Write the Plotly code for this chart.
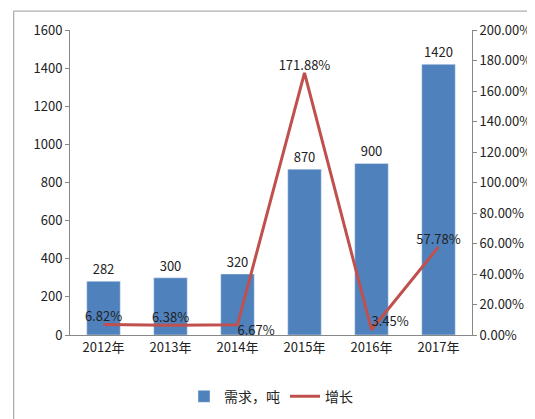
import plotly.graph_objects as go

years = ["2012年", "2013年", "2014年", "2015年", "2016年", "2017年"]
demand = [282, 300, 320, 870, 900, 1420]
growth = [6.82, 6.38, 6.67, 171.88, 3.45, 57.78]
growth_text = ["6.82%", "6.38%", "6.67%", "171.88%", "3.45%", "57.78%"]
growth_pos = ["top center", "top center", "bottom right", "top center", "top right", "top center"]

font = "Noto Sans CJK SC"
fig = go.Figure()
fig.add_trace(go.Bar(x=years, y=demand, name="需求，吨", marker_color="#4F81BD",
                     width=0.5, text=[str(v) for v in demand], textposition="outside",
                     constraintext="none",
                     textfont=dict(size=13, color="#222"), cliponaxis=False))
fig.add_trace(go.Scatter(x=years, y=growth, name="增长", yaxis="y2", mode="lines+text",
                         line=dict(color="#C0504D", width=3), text=growth_text,
                         textposition=growth_pos, textfont=dict(size=13, color="#222"),
                         cliponaxis=False))
fig.update_layout(
    width=535, height=419, paper_bgcolor="white", plot_bgcolor="white",
    font=dict(family=font, size=12, color="#222"),
    margin=dict(l=62, r=65, t=22, b=92),
    xaxis=dict(showline=True, linecolor="#888", ticks="", tickfont=dict(size=13)),
    yaxis=dict(range=[0, 1600], dtick=200, showgrid=False, showline=True, linecolor="#888",
               ticks="outside", ticklen=4, tickcolor="#888", tickfont=dict(size=13)),
    yaxis2=dict(range=[0, 200], dtick=20, overlaying="y", side="right", showgrid=False,
                showline=True, linecolor="#888", ticks="outside", ticklen=4, tickcolor="#888",
                ticksuffix=".00%", tickfont=dict(size=13)),
    legend=dict(orientation="h", x=0.5, xanchor="center", y=-0.15, yanchor="top",
                font=dict(size=14)),
    shapes=[dict(type="rect", xref="paper", yref="paper", x0=-0.14, x1=1.147, y0=-0.29, y1=1.062,
                 line=dict(color="#999", width=1))],
)
fig.write_html("out.html")
